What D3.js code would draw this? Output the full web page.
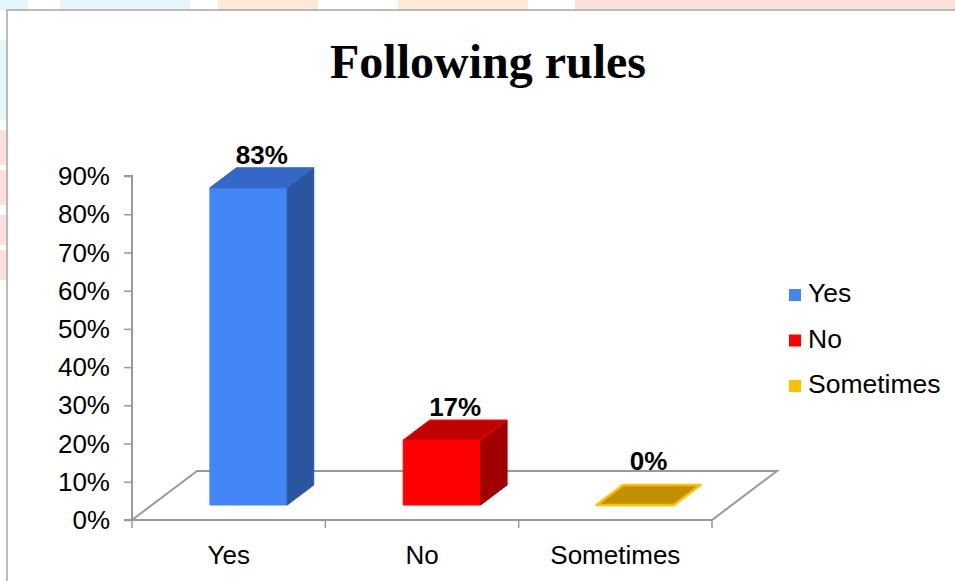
<!DOCTYPE html>
<html><head><meta charset="utf-8">
<script src="https://cdn.jsdelivr.net/npm/d3@7"></script>
<style>html,body{margin:0;padding:0;background:#fff;}svg{display:block;}</style>
</head><body>
<script>
const categories = ["Yes", "No", "Sometimes"];
const values = [0.83, 0.17, 0.00];
const valueLabels = ["83%", "17%", "0%"];
const yTickValues = [0, 0.1, 0.2, 0.3, 0.4, 0.5, 0.6, 0.7, 0.8, 0.9];
const frontColors = ["#4285f4", "#ff0000", "#ffc000"];
const topColors = ["#3467c6", "#c00000", "#c09000"];
const sideColors = ["#2b55a0", "#a00000", "#a07800"];
const legendColors = ["#4285f4", "#ff0000", "#ffc000"];
const titleText = "Following rules";

const W = 955, H = 581;
const svg = d3.select("body").append("svg").attr("width", W).attr("height", H);

// faint watermark background outside chart box
const wm = svg.append("g");
[[0,0,28,10,"#e3f6fb"],[60,0,130,10,"#e6f7fb"],[218,0,100,10,"#fde9d6"],[398,0,130,10,"#fde9d6"],[575,0,380,10,"#fbe0dc"],
 [0,40,7,80,"#e6f7fb"],[0,130,7,35,"#fbe0dc"],[0,170,7,35,"#fbe0dc"],[0,215,7,30,"#fbe0dc"],[0,250,7,30,"#fbe0dc"]]
 .forEach(r => wm.append("rect").attr("x", r[0]).attr("y", r[1]).attr("width", r[2]).attr("height", r[3]).attr("fill", r[4]));

// chart box
svg.append("rect").attr("x", 7).attr("y", 10).attr("width", 960).attr("height", 590)
  .attr("fill", "#fff").attr("stroke", "#a6a6a6").attr("stroke-width", 1.5);

svg.append("text").attr("x", 488).attr("y", 78).attr("text-anchor", "middle")
  .attr("font-family", "'Liberation Serif', 'Times New Roman', serif").attr("font-weight", "bold")
  .attr("font-size", 48).attr("fill", "#000").text(titleText);

const x0 = 132, x1 = 712;
const x = d3.scaleBand().domain(categories).range([x0, x1]).padding(0);
const y = d3.scaleLinear().domain([0, 0.9]).range([520, 176]);
const D = [65, -49]; // floor depth vector
const t1 = 0.306, t2 = 0.714; // bar depth fractions
const P = (px, v, t) => [px + t * D[0], y(v) + t * D[1]];
const gray = "#999999";

// floor
const floor = [[x0, y(0)], [x1, y(0)], [x1 + D[0], y(0) + D[1]], [x0 + D[0], y(0) + D[1]]];
svg.append("polygon").attr("points", floor.map(p => p.join(",")).join(" "))
  .attr("fill", "#fff").attr("stroke", gray).attr("stroke-width", 2);

// y axis
const yAxis = d3.axisLeft(y).tickValues(yTickValues).tickFormat(d3.format(".0%")).tickSize(8).tickPadding(14);
const ga = svg.append("g").attr("transform", `translate(${x0},0)`).call(yAxis);
ga.select(".domain").attr("stroke", gray).attr("stroke-width", 2).attr("d", `M-8,${y(0.9)}H0V${y(0)}H-8`);
ga.selectAll(".tick line").attr("stroke", gray).attr("stroke-width", 1.5);
ga.selectAll(".tick text").attr("font-family", "'Liberation Sans', Arial, sans-serif").attr("font-size", 26)
  .attr("fill", "#000").attr("dy", "0.33em");

// x axis (category ticks on front floor edge)
const xAxis = d3.axisBottom(x).tickSize(0).tickPadding(26);
const gx = svg.append("g").attr("transform", `translate(0,${y(0)})`).call(xAxis);
gx.select(".domain").remove();
gx.selectAll(".tick text").attr("font-family", "'Liberation Sans', Arial, sans-serif").attr("font-size", 26).attr("fill", "#000");
const bounds = categories.map(c => x(c)).concat([x1]);
svg.append("g").selectAll("line").data(bounds).join("line")
  .attr("x1", d => d).attr("x2", d => d).attr("y1", y(0)).attr("y2", y(0) + 8)
  .attr("stroke", gray).attr("stroke-width", 1.5);

// bars
const bw = x.bandwidth();
categories.forEach((c, i) => {
  const v = values[i];
  const xl = x(c) + bw * 0.30, xr = xl + bw * 0.40;
  const g = svg.append("g");
  const poly = (pts, fill, stroke, sw) => g.append("polygon").attr("points", pts.map(p => p.join(",")).join(" "))
    .attr("fill", fill).attr("stroke", stroke).attr("stroke-width", sw).attr("stroke-linejoin", "round");
  if (v > 0) {
    poly([P(xl, 0, t1), P(xr, 0, t1), P(xr, v, t1), P(xl, v, t1)], frontColors[i], frontColors[i], 1);
    poly([P(xr, 0, t1), P(xr, 0, t2), P(xr, v, t2), P(xr, v, t1)], sideColors[i], sideColors[i], 1);
    poly([P(xl, v, t1), P(xr, v, t1), P(xr, v, t2), P(xl, v, t2)], topColors[i], i === 1 ? frontColors[i] : topColors[i], 1);
  } else {
    poly([P(xl, 0, t1), P(xr, 0, t1), P(xr, 0, t2), P(xl, 0, t2)], topColors[i], frontColors[i], 2.5);
  }
  const cx = (xl + xr) / 2 + (t1 + t2) / 2 * D[0];
  const by = Math.min(P(xl, v, t2)[1] - 4, P(xl, 0, t2)[1] - 15);
  svg.append("text").attr("x", cx).attr("y", by).attr("text-anchor", "middle")
    .attr("font-family", "'Liberation Sans', Arial, sans-serif").attr("font-weight", "bold").attr("font-size", 26)
    .attr("fill", "#000").text(valueLabels[i]);
});

// legend
const lg = svg.append("g");
categories.forEach((c, i) => {
  const ly = 302 + i * 45.5;
  lg.append("rect").attr("x", 789).attr("y", ly - 13).attr("width", 12).attr("height", 12).attr("fill", legendColors[i]);
  lg.append("text").attr("x", 808).attr("y", ly).attr("font-family", "'Liberation Sans', Arial, sans-serif")
    .attr("font-size", 26.5).attr("fill", "#000").text(c);
});
</script>
</body></html>
